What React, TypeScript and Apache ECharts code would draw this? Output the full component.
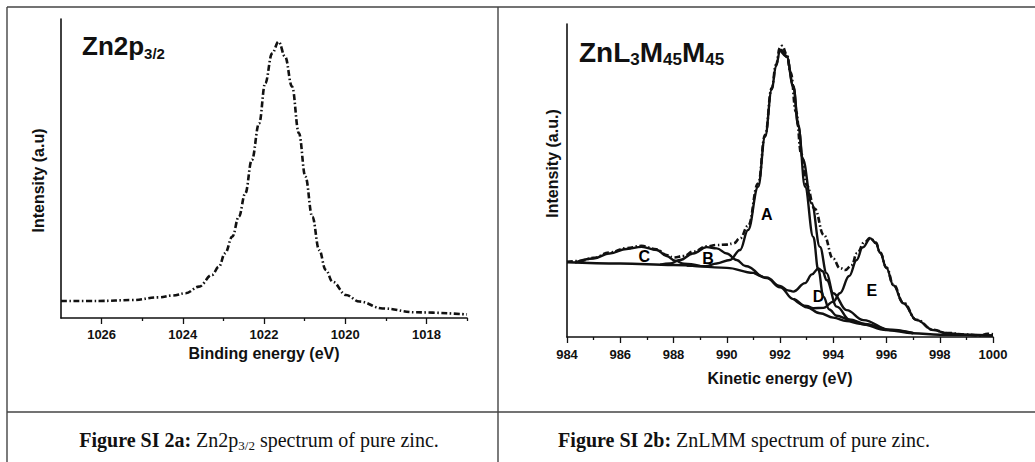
import React, { useEffect, useRef } from "react";
import * as echarts from "echarts";

// ---------- Data ----------
// Figure SI 2a: Zn2p3/2 spectrum (binding energy eV, intensity a.u.)
const bindingEnergyTicks = [1018, 1020, 1022, 1024, 1026];
const bindingEnergyMinorTicks = [1017, 1019, 1021, 1023, 1025];
const zn2pSpectrum: [number, number][] = [
  [1027, 5.7], [1026.07, 5.7], [1025.25, 6.0], [1024.59, 6.9], [1024.26, 7.5],
  [1023.93, 8.3], [1023.6, 10.5], [1023.28, 14.4], [1023.11, 17.2], [1022.96, 21.6],
  [1022.78, 27.2], [1022.62, 33.9], [1022.46, 41.7], [1022.3, 52.8], [1022.12, 65.1],
  [1021.97, 78.5], [1021.8, 88.5], [1021.64, 92.4], [1021.48, 87.4], [1021.31, 77.4],
  [1021.14, 61.8], [1020.98, 47.3], [1020.81, 33.9], [1020.64, 22.7], [1020.48, 16.1],
  [1020.31, 12.1], [1019.98, 7.7], [1019.65, 5.5], [1019.08, 3.2], [1018.25, 1.9],
  [1017, 1.2],
];

// Figure SI 2b: ZnLMM spectrum (kinetic energy eV, intensity a.u.)
const lmmBackground: [number, number][] = [
  [984, 23.9], [986, 23.5], [988, 23.0], [990, 22.1], [991, 20.5], [991.5, 18.8],
  [992, 15.9], [992.5, 12.1], [993, 9.5], [993.5, 7.6], [994, 6.2], [994.5, 5.1],
  [995, 4.2], [996, 2.2], [997, 1.2], [998, 0.7], [1000, 0.5],
];
const lmmPeakC: [number, number][] = [
  [984.3, 23.8], [985, 25.1], [985.6, 26.7], [986.24, 28.1], [986.8, 28.8],
  [987.37, 27.8], [987.74, 25.9], [988.06, 24.4], [988.4, 23.4], [989, 22.7],
];
const lmmPeakB: [number, number][] = [
  [987.5, 23.1], [987.87, 23.5], [988.24, 24.6], [988.74, 26.7], [989.25, 28.7],
  [989.62, 28.3], [990.0, 26.7], [990.37, 24.6], [990.7, 22.7], [991.2, 19.9],
];
const lmmPeakA: [number, number][] = [
  [988.5, 22.8], [989.2, 22.6], [989.62, 23.5], [990.12, 24.6], [990.5, 27.8],
  [990.8, 34.2], [991.18, 48.0], [991.44, 64.0], [991.69, 79.0], [991.85, 86.5],
  [992.0, 91.5], [992.05, 91.7], [992.25, 89.5], [992.5, 80.0], [992.69, 67.2],
  [992.94, 48.0], [993.25, 32.0], [993.44, 21.4], [993.63, 12.9], [993.85, 8.8],
  [994.13, 6.8], [994.6, 5.6], [995.2, 4.2], [996, 2.4], [997, 1.3],
];
const lmmPeakAD: [number, number][] = [
  [992.0, 91.8], [992.25, 89.7], [992.5, 80.3], [992.69, 67.7], [992.85, 57.0],
  [993.19, 42.7], [993.5, 28.8], [993.75, 20.4], [994.0, 14.0], [994.5, 8.6],
  [995.13, 5.4], [996.13, 2.2], [997, 1.2],
];
const lmmPeakD: [number, number][] = [
  [991.0, 20.6], [991.5, 19.0], [992.0, 16.3], [992.3, 14.9], [992.5, 14.5],
  [992.94, 17.2], [993.2, 20.0], [993.44, 21.9], [993.6, 21.0], [993.75, 18.2],
  [994.13, 9.7], [994.63, 5.4], [995.2, 3.9], [996, 2.2],
];
const lmmPeakE: [number, number][] = [
  [992.5, 12.3], [993.0, 9.9], [993.25, 9.2], [993.63, 9.3], [994.0, 11.3],
  [994.25, 14.0], [994.6, 19.5], [994.88, 24.6], [995.1, 28.6], [995.4, 31.5],
  [995.6, 30.0], [995.76, 26.9], [996.0, 22.0], [996.26, 16.5], [996.63, 10.8],
  [997.13, 5.4], [997.76, 2.2], [998.26, 1.2], [999, 0.7], [1000, 0.5],
];
const lmmMeasured: [number, number][] = [
  [984, 24.0], [984.5, 24.3], [985, 25.3], [985.6, 27.0], [986.24, 28.4],
  [986.8, 29.1], [987.37, 28.0], [987.74, 26.2], [988.0, 25.4], [988.4, 25.9],
  [988.74, 27.3], [989.25, 28.9], [989.62, 29.4], [990.0, 29.5], [990.25, 29.9],
  [990.5, 31.5], [990.8, 35.5], [991.18, 49.0], [991.44, 64.5], [991.69, 79.5],
  [991.85, 87.0], [992.0, 92.5], [992.08, 93.0], [992.25, 90.5], [992.4, 84.5],
  [992.6, 72.0], [992.8, 58.5], [993.0, 48.5], [993.3, 41.0], [993.65, 32.5],
  [994.0, 25.0], [994.25, 22.0], [994.45, 21.4], [994.7, 23.0], [994.88, 26.7],
  [995.19, 30.4], [995.38, 31.6], [995.6, 30.2], [995.76, 27.0], [996.0, 22.2],
  [996.26, 16.7], [996.63, 11.0], [997.13, 5.5], [997.76, 2.3], [998.26, 1.3],
  [999, 0.8], [999.5, 0.5], [999.8, 1.0], [1000, 0.9],
];
const peakLabels: { name: string; value: [number, number] }[] = [
  { name: "A", value: [991.5, 39.0] },
  { name: "B", value: [989.3, 25.2] },
  { name: "C", value: [986.9, 25.6] },
  { name: "D", value: [993.45, 12.8] },
  { name: "E", value: [995.45, 15.0] },
];

const SANS = "Arial, 'Liberation Sans', Helvetica, sans-serif";
const SERIF = "'Times New Roman', 'Liberation Serif', serif";
const INK = "#111";
const DASH_DOT = [6, 2.5, 1.5, 2.5];

function axisName(text: string, x: number, y: number) {
  return {
    type: "text",
    x,
    y,
    rotation: Math.PI / 2,
    style: {
      text,
      fill: INK,
      font: `bold 16px ${SANS}`,
      align: "center",
      verticalAlign: "middle",
      textAlign: "center",
      textVerticalAlign: "middle",
    },
  };
}

function richTitle(text: string, x: number, y: number, main: number, sub: number) {
  return {
    type: "text",
    x,
    y,
    style: {
      text,
      align: "left",
      verticalAlign: "top",
      rich: {
        m: { fontSize: main, fontWeight: "bold", fontFamily: SANS, fill: INK, lineHeight: main + 4 },
        s: { fontSize: sub, fontWeight: "bold", fontFamily: SANS, fill: INK, lineHeight: 10, verticalAlign: "bottom" },
      },
    },
  };
}

function caption(text: string, x: number, y: number) {
  return {
    type: "text",
    x,
    y,
    style: {
      text,
      align: "center",
      textAlign: "center",
      verticalAlign: "top",
      rich: {
        b: { fontSize: 20, fontWeight: "bold", fontFamily: SERIF, fill: INK, lineHeight: 24 },
        r: { fontSize: 20, fontFamily: SERIF, fill: INK, lineHeight: 24 },
        s: { fontSize: 13, fontFamily: SERIF, fill: INK, lineHeight: 12, verticalAlign: "bottom" },
      },
    },
  };
}

function border(x1: number, y1: number, x2: number, y2: number) {
  return {
    type: "line",
    shape: { x1, y1, x2, y2 },
    style: { stroke: "#444", lineWidth: 1.4 },
  };
}

const tickLabelStyle = {
  color: INK,
  fontSize: 13,
  fontWeight: "bold",
  fontFamily: SANS,
  formatter: (v: number) => String(v),
};
const axisLineStyle = { color: INK, width: 1.6 };

function componentLine(data: [number, number][]) {
  return {
    type: "line",
    xAxisIndex: 2,
    yAxisIndex: 1,
    data,
    smooth: 0.4,
    smoothMonotone: "x",
    showSymbol: false,
    lineStyle: { color: INK, width: 2.4 },
    silent: true,
  };
}

export default function App() {
  const ref = useRef<HTMLDivElement>(null);

  useEffect(() => {
    if (!ref.current) return;
    const chart = echarts.init(ref.current, undefined, { renderer: "svg" });
    chart.setOption({
      animation: false,
      backgroundColor: "#fff",
      grid: [
        { left: 61, top: 19, width: 406, height: 299 },
        { left: 567, top: 24, width: 426, height: 313 },
      ],
      xAxis: [
        {
          gridIndex: 0,
          type: "value",
          position: "bottom",
          min: 1017,
          max: 1027,
          inverse: true,
          axisLine: { show: true, onZero: false, lineStyle: axisLineStyle },
          axisTick: { show: true, customValues: bindingEnergyTicks, length: 6, lineStyle: { color: INK, width: 1.3 } },
          axisLabel: { show: true, customValues: bindingEnergyTicks, margin: 10, ...tickLabelStyle },
          splitLine: { show: false },
          name: "Binding energy (eV)",
          nameLocation: "middle",
          nameGap: 27,
          nameTextStyle: { color: INK, fontSize: 16, fontWeight: "bold", fontFamily: SANS },
        },
        {
          gridIndex: 0,
          type: "value",
          position: "bottom",
          min: 1017,
          max: 1027,
          inverse: true,
          axisLine: { show: false },
          axisTick: { show: true, customValues: bindingEnergyMinorTicks, length: 3, lineStyle: { color: INK, width: 1.3 } },
          axisLabel: { show: false },
          splitLine: { show: false },
        },
        {
          gridIndex: 1,
          type: "value",
          position: "bottom",
          min: 984,
          max: 1000,
          interval: 2,
          axisLine: { show: true, onZero: false, lineStyle: axisLineStyle },
          axisTick: { show: true, length: 6, lineStyle: { color: INK, width: 1.3 } },
          minorTick: { show: true, splitNumber: 2, length: 3, lineStyle: { color: INK, width: 1.3 } },
          axisLabel: { show: true, margin: 11, ...tickLabelStyle },
          splitLine: { show: false },
          name: "Kinetic energy (eV)",
          nameLocation: "middle",
          nameGap: 33,
          nameTextStyle: { color: INK, fontSize: 16, fontWeight: "bold", fontFamily: SANS },
        },
      ],
      yAxis: [
        {
          gridIndex: 0,
          type: "value",
          min: 0,
          max: 100,
          axisLine: { show: true, onZero: false, lineStyle: axisLineStyle },
          axisTick: { show: false },
          axisLabel: { show: false },
          splitLine: { show: false },
        },
        {
          gridIndex: 1,
          type: "value",
          min: 0,
          max: 100,
          axisLine: { show: true, onZero: false, lineStyle: axisLineStyle },
          axisTick: { show: false },
          axisLabel: { show: false },
          splitLine: { show: false },
        },
      ],
      series: [
        {
          type: "line",
          xAxisIndex: 0,
          yAxisIndex: 0,
          data: zn2pSpectrum,
          smooth: 0.4,
          smoothMonotone: "x",
          showSymbol: false,
          lineStyle: { color: INK, width: 2.6, type: DASH_DOT },
        },
        componentLine(lmmBackground),
        componentLine(lmmPeakC),
        componentLine(lmmPeakB),
        componentLine(lmmPeakA),
        componentLine(lmmPeakAD),
        componentLine(lmmPeakD),
        componentLine(lmmPeakE),
        {
          type: "line",
          xAxisIndex: 2,
          yAxisIndex: 1,
          data: lmmMeasured,
          smooth: 0.45,
          smoothMonotone: "x",
          showSymbol: false,
          lineStyle: { color: INK, width: 2.6, type: DASH_DOT },
        },
        {
          type: "scatter",
          xAxisIndex: 2,
          yAxisIndex: 1,
          data: peakLabels,
          symbol: "circle",
          symbolSize: 0.01,
          itemStyle: { color: INK, opacity: 1 },
          emphasis: { disabled: true },
          silent: true,
          label: {
            show: true,
            position: "inside",
            formatter: (p: any) => p.name,
            color: "#000",
            opacity: 1,
            fontSize: 16,
            fontWeight: "bold",
            fontFamily: SANS,
            textBorderWidth: 0,
          },
        },
      ],
      graphic: [
        border(7, 7, 1035, 7),
        border(7, 7, 7, 462),
        border(498, 7, 498, 462),
        border(7, 412, 1035, 412),
        axisName("Intensity (a.u)", 38.5, 180.5),
        axisName("Intensity (a.u.)", 552, 163.5),
        richTitle("{m|Zn2p}{s|3/2}", 82, 30.5, 26, 15),
        richTitle("{m|ZnL}{s|3}{m|M}{s|45}{m|M}{s|45}", 579, 36, 28, 17),
        caption("{b|Figure SI 2a: }{r|Zn2p}{s|3/2}{r| spectrum of pure zinc.}", 259, 428),
        caption("{b|Figure SI 2b: }{r|ZnLMM spectrum of pure zinc.}", 744, 428),
      ],
    });
    return () => chart.dispose();
  }, []);

  return (
    <div
      ref={ref}
      style={{ position: "absolute", left: 0, top: 0, width: 1035, height: 462, background: "#fff" }}
    />
  );
}
